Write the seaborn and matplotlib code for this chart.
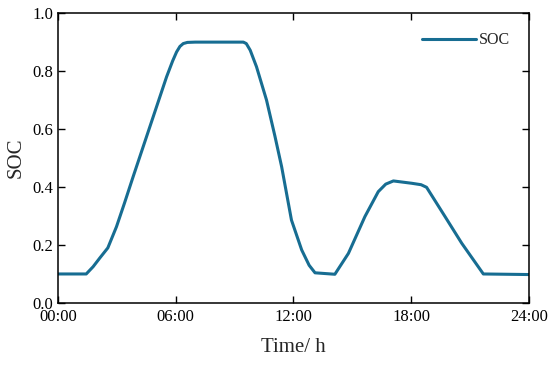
import numpy as np
import pandas as pd
import matplotlib
matplotlib.use('Agg')
import matplotlib.pyplot as plt
import seaborn as sns

# hours and SOC
hours = [0.0, 1.45, 1.8, 2.14, 2.55, 2.99, 3.4, 3.84, 4.69, 5.54, 5.85, 6.05, 6.22, 6.39, 6.6, 7.0,
         9.45, 9.6, 9.8, 10.12, 10.63, 11.06, 11.4, 11.9, 12.42, 12.8, 13.1, 14.11, 14.8, 15.64,
         16.32, 16.7, 17.09, 18.02, 18.5, 18.78, 19.72, 20.57, 21.67, 24.0]
soc = [0.10, 0.10, 0.125, 0.155, 0.19, 0.263, 0.345, 0.436, 0.608, 0.78, 0.835, 0.866, 0.885, 0.895, 0.899, 0.90,
       0.90, 0.895, 0.872, 0.815, 0.70, 0.575, 0.47, 0.286, 0.183, 0.13, 0.104, 0.099, 0.171, 0.298,
       0.384, 0.41, 0.421, 0.413, 0.408, 0.399, 0.298, 0.206, 0.10, 0.098]
xticks = [0, 6, 12, 18, 24]
xlabels = ['00:00', '06:00', '12:00', '18:00', '24:00']

df = pd.DataFrame({'hour': hours, 'SOC': soc})

sns.set_style('ticks')
plt.rcParams['font.family'] = ['Liberation Serif', 'DejaVu Serif']

fig, ax = plt.subplots(figsize=(5.5, 3.65), dpi=100)
fig.subplots_adjust(left=0.105, right=0.962, top=0.964, bottom=0.17)

sns.lineplot(data=df, x='hour', y='SOC', color='#176d92', linewidth=2.2, label='SOC', ax=ax)

ax.set_xlim(0, 24)
ax.set_ylim(0, 1.0)
ax.set_xticks(xticks)
ax.set_xticklabels(xlabels)
ax.set_yticks([0, 0.2, 0.4, 0.6, 0.8, 1.0])
ax.set_yticklabels(['0.0', '0.2', '0.4', '0.6', '0.8', '1.0'])
ax.tick_params(direction='in', top=True, right=True, labeltop=False, labelright=False,
               length=5, width=1, labelsize=12, colors='black')
ax.tick_params(axis='x', pad=4)
ax.tick_params(axis='y', pad=3)
for s in ax.spines.values():
    s.set_linewidth(1.1)
    s.set_color('black')
ax.set_xlabel('Time/ h', fontsize=15, labelpad=10)
ax.set_ylabel('SOC', fontsize=15, labelpad=5)
ax.legend(loc='upper right', frameon=False, fontsize=11.5, handlelength=3.4,
          handletextpad=0.15, borderaxespad=0.8)

fig.savefig('out.png', dpi=100)
